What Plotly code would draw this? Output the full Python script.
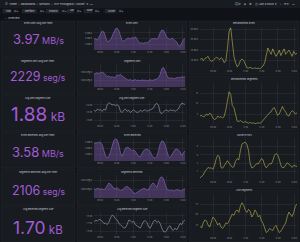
import pandas as pd
import plotly.graph_objects as go

W, H = 300, 242

# ---------------- data ----------------
stat_titles = ["Bytes Sent (avg over time)", "Segments Sent (avg over time)", "Avg Sent Segment Size",
               "Bytes Received (avg over time)", "Segments Received (avg over time)", "Avg Received Segment Size"]
stat_values = ["3.97", "2229", "1.88", "3.58", "2106", "1.70"]
stat_units = ["MB/s", "seg/s", "kB", "MB/s", "seg/s", "kB"]

mid_titles = ["Bytes Sent", "Segments Sent", "Avg Sent Segment Size",
              "Bytes Received", "Segments Received", "Avg Received Segment Size"]
bytes_sent_mbs = [3.8, 4.0, 3.68, 4.2, 4.8, 5.32, 5.12, 4.2, 3.4, 3.6, 3.8, 4.4, 5.2, 5.68, 5.8, 5.4, 4.48,
                  3.6, 3.52, 3.8, 4.0, 4.08, 3.92, 4.2, 4.0, 4.32, 3.8, 3.4, 3.2, 3.28, 3.12, 3.32, 3.2, 3.52,
                  3.68, 4.0, 3.92, 4.08, 3.8, 4.2, 5.0, 5.48, 5.4, 4.8, 4.2, 4.0, 3.8, 4.08, 3.92, 3.6, 3.4,
                  2.8, 2.6, 3.2, 3.8, 4.0]
segments_sent = [2370, 2440, 2468, 2412, 2440, 2510, 2440, 2300, 2230, 2272, 2188, 2230, 2160, 2230, 2328,
                 2300, 2370, 2272, 2188, 2090, 2048, 2020, 2062, 1992, 2020, 2048, 1992, 2020, 1978, 2034,
                 2006, 2020, 1964, 2020, 2048, 1992, 2020, 2062, 2090, 2160, 2370, 2720, 2790, 2580, 2300,
                 2160, 2132, 2160, 2104, 2132, 2160, 2188, 2160, 2230, 2202, 2230]
avg_sent_kb = [1.86, 1.83, 1.89, 1.86, 1.872, 1.83, 1.89, 1.86, 2.01, 2.052, 2.028, 1.998, 2.01, 1.98, 1.998,
               1.968, 1.83, 1.8, 1.86, 1.89, 1.83, 1.86, 1.8, 1.848, 1.872, 1.83, 1.8, 1.812, 1.86, 1.83,
               1.848, 1.872, 1.83, 1.86, 1.872, 1.89, 1.92, 2.01, 2.04, 1.98, 1.8, 1.77, 1.83, 1.86, 1.86,
               1.83, 1.872, 1.848, 1.86, 1.83, 1.86, 1.89, 1.98, 2.04, 2.028, 2.01]
bytes_recv_mbs = [4.8, 5.0, 4.92, 5.08, 5.0, 4.6, 3.6, 2.6, 2.4, 2.6, 3.4, 4.6, 5.4, 5.64, 5.48, 4.6, 3.2,
                  2.6, 3.2, 4.0, 4.2, 4.12, 3.8, 3.6, 3.72, 3.48, 3.0, 2.6, 2.52, 3.0, 3.6, 3.8, 3.88, 3.72,
                  3.4, 2.8, 2.4, 2.28, 2.6, 3.6, 4.8, 5.28, 5.2, 4.6, 3.4, 2.6, 2.4, 2.8, 3.4, 3.8, 3.88,
                  3.72, 3.4, 2.8, 3.2, 3.6]
segments_recv = [2020, 1994, 2046, 2020, 1994, 2020, 1968, 2046, 2215, 2345, 2280, 2150, 2046, 2020, 2085,
                 1994, 1916, 1955, 2046, 2124, 2150, 2098, 2020, 1890, 1786, 1760, 1825, 1890, 1916, 1994,
                 2046, 2020, 1955, 1994, 2150, 2306, 2345, 2215, 2085, 2410, 2644, 2696, 2605, 2280, 2020,
                 1955, 1916, 1955, 1890, 1929, 1968, 1955, 1929, 1890, 1994, 2020]
avg_recv_kb = [1.73, 1.79, 1.76, 1.808, 1.79, 1.76, 1.7, 1.712, 1.67, 1.73, 1.85, 1.922, 1.892, 1.82, 1.79,
               1.7, 1.67, 1.61, 1.58, 1.592, 1.67, 1.79, 1.772, 1.73, 1.76, 1.67, 1.64, 1.61, 1.58, 1.67,
               1.76, 1.772, 1.73, 1.61, 1.58, 1.67, 1.76, 1.79, 1.73, 1.76, 1.7, 1.58, 1.49, 1.478, 1.52,
               1.61, 1.64, 1.55, 1.52, 1.58, 1.532, 1.61, 1.7, 1.67, 1.76, 1.79]

right_titles = ["Retransmitted Bytes", "Retransmitted Segments", "Socket Errors", "Lost Segments"]
retrans_bytes_kbs = [10.8, 12.4, 10, 12, 12.8, 14, 10.8, 9.2, 10, 12, 13.2, 12.4, 10.8, 12.8, 11.6, 8, 10,
                     22, 38, 41.2, 30, 14, 8, 4, 6, 10, 11.6, 10, 6.8, 3.2, 2.8, 3.6, 2.8, 2, 3.2, 2.4, 2.8,
                     2, 3.6, 4.8, 8, 16, 22, 18.8, 16, 21.2, 18, 14, 16.4, 20, 14.8, 18.8, 21.2, 16, 18, 20,
                     17.2, 14, 18.8, 16, 17.2]
retrans_segments = [4, 4.4, 3.6, 4, 5, 4.4, 5.4, 4.8, 3, 2.4, 2.8, 4, 3.4, 3.8, 3, 4, 7, 12, 15.6, 14.4, 9,
                    8, 4, 1.6, 1.4, 2, 1.2, 1, 1.4, 0.8, 0.6, 1, 0.6, 0.8, 0.4, 0.6, 0.8, 0.6, 1, 2, 3, 4, 5,
                    5.6, 6, 7.6, 8, 6, 4.4, 5, 7, 8.6, 7, 6, 4.4, 4, 5.6, 6.6, 6, 5, 5.6]
socket_errors = [0.5, 0.8, 1.2, 2, 2.5, 3, 2.8, 2.9, 2.5, 3.5, 5, 5.9, 5.5, 3, 2.8, 3.5, 4.2, 4.6, 4, 3.5, 3,
                 3.2, 4.5, 5.1, 4.8, 7, 8.6, 8.8, 9, 8.5, 7, 4, 2.9, 3, 3.5, 3.9, 3.8, 4.5, 5.1, 4.8, 3.5,
                 2.9, 3.3, 3.9, 3.8, 4.5, 5.8, 6.3, 6, 5, 3.5, 2.9, 3, 3.5, 4.1, 3.8, 3.3, 3, 3.5, 3.4, 3.2]
lost_segments = [22, 18, 30, 37, 35, 25, 20, 30, 44, 40, 30, 25, 30, 20, 17, 22, 30, 28, 35, 45, 51, 48, 58,
                 61, 55, 70, 78, 72, 60, 55, 62, 58, 44, 50, 61, 55, 44, 48, 35, 29, 20, 7, 10, 17, 14, 12,
                 20, 24, 15, 7, 10, 17, 22, 30, 45, 56, 50, 45, 55, 70, 75]

hour_labels = ["09:00", "10:00", "11:00", "12:00", "13:00", "14:00"]
mid_ytick_vals = [[3, 4, 5], [2000, 2500], [1.6, 1.8, 2.0], [3, 4, 5], [2000, 2500], [1.5, 1.7, 1.9]]
mid_ytick_text = [["3 MB/s", "4 MB/s", "5 MB/s"], ["2000 seg/s", "2500 seg/s"], ["1.6 kB", "1.8 kB", "2.0 kB"],
                  ["3 MB/s", "4 MB/s", "5 MB/s"], ["2000 seg/s", "2500 seg/s"], ["1.5 kB", "1.7 kB", "1.9 kB"]]
right_ytick_vals = [[10, 20, 30, 40], [5, 10, 15], [2, 4, 6, 8], [25, 50, 75]]
right_ytick_text = [["10 kB/s", "20 kB/s", "30 kB/s", "40 kB/s"], ["5", "10", "15"], ["2", "4", "6", "8"],
                    ["25", "50", "75"]]

mid_series = [bytes_sent_mbs, segments_sent, avg_sent_kb, bytes_recv_mbs, segments_recv, avg_recv_kb]
right_series = [retrans_bytes_kbs, retrans_segments, socket_errors, lost_segments]

mid_times = pd.date_range("2024-05-14 08:38", periods=len(bytes_sent_mbs), freq="6min")
right_times = pd.date_range("2024-05-14 08:11", periods=len(retrans_bytes_kbs), freq="6min")
hour_ticks = pd.date_range("2024-05-14 09:00", periods=len(hour_labels), freq="1h")

# ---------------- styling / layout ----------------
BG = "#111217"
PANEL = "#181b1f"
BORDER = "#26292f"
TXT = "#ccccdc"
TICK = "#8e8f99"
PURPLE = "#a35bd8"
FONT = "Inter"

mid_ranges = [[2, 6], [1600, 3000], [1.5, 2.1], [1.8, 5.8], [1500, 2800], [1.4, 2.0]]
mid_is_area = [True, True, False, True, True, False]
right_ranges = [[2, 42], [0, 20], [0, 10], [0, 100]]

stat_value_y = [39, 77, 114.5, 152, 190, 227]
stat_sizes = [(13, 9), (12.5, 8.5), (19, 12), (13, 9), (12.5, 8.5), (17.5, 11.5)]


def fx(p):
    return p / W


def fy(p):
    return 1 - p / H


fig = go.Figure()
shapes = []
ann = []


def panel(x0, y0, x1, y1):
    shapes.append(dict(type="rect", xref="paper", yref="paper", x0=fx(x0), x1=fx(x1), y0=fy(y1), y1=fy(y0),
                       fillcolor=PANEL, line=dict(color=BORDER, width=0.5), layer="below"))


def text(x, y, s, size, color=TXT, xanchor="left"):
    ann.append(dict(xref="paper", yref="paper", x=fx(x), y=fy(y), text=s, showarrow=False,
                    xanchor=xanchor, yanchor="middle", font=dict(size=size, color=color, family=FONT)))


# header
shapes.append(dict(type="rect", xref="paper", yref="paper", x0=0, x1=1, y0=fy(8), y1=1,
                   fillcolor=PANEL, line=dict(width=0), layer="below"))
text(3, 4, "☰  Home  ›  Dashboards  ›  Network  ›  TCP Throughput / Socket  ☆  ⋯", 2.6)
text(297, 4, "⊕ ▾    ⧉    ⚙    ◷ Last 6 hours ▾    ⌕    ⟳ ▾    ▭", 2.6, xanchor="right")
var_items = [("Host", 3), ("Interface", 22), ("Protocol", 46), ("Job", 67), ("Node", 84), ("Socket", 105)]
for name, vx in var_items:
    lw = len(name) * 1.3 + 3
    shapes.append(dict(type="rect", xref="paper", yref="paper", x0=fx(vx), x1=fx(vx + lw), y0=fy(13), y1=fy(9),
                       fillcolor="#22252b", line=dict(color=BORDER, width=0.4), layer="below"))
    shapes.append(dict(type="rect", xref="paper", yref="paper", x0=fx(vx + lw), x1=fx(vx + lw + 7), y0=fy(13),
                       y1=fy(9), fillcolor=BG, line=dict(color=BORDER, width=0.4), layer="below"))
    text(vx + 1.2, 11, name, 2.2)
    text(vx + lw + 1, 11, "All ▾", 2.0)
text(3, 17.5, "⌄  Overview", 2.5)

# left stat panels
row_tops = [21, 58, 95, 132, 169, 206]
for i in range(6):
    t = row_tops[i]
    panel(1, t, 75, t + 36)
    text(38, t + 2.5, stat_titles[i], 2.3, xanchor="center")
    vs, us = stat_sizes[i]
    ann.append(dict(xref="paper", yref="paper", x=fx(38), y=fy(stat_value_y[i]),
                    text=f"{stat_values[i]}<span style='font-size:{us}px'> {stat_units[i]}</span>",
                    showarrow=False, xanchor="center", yanchor="middle",
                    font=dict(size=vs, color=PURPLE, family=FONT)))

layout_axes = {}
# middle charts
for i in range(6):
    t = row_tops[i]
    panel(77, t, 187, t + 36)
    text(132, t + 2.5, mid_titles[i], 2.3, xanchor="center")
    n = i + 1
    xa = "xaxis" if n == 1 else f"xaxis{n}"
    ya = "yaxis" if n == 1 else f"yaxis{n}"
    xr = "x" if n == 1 else f"x{n}"
    yr = "y" if n == 1 else f"y{n}"
    if mid_is_area[i]:
        tr = go.Scatter(x=mid_times, y=mid_series[i], mode="lines", fill="tozeroy",
                        line=dict(color="#8d6cc2", width=0.6), fillcolor="rgba(130,90,180,0.40)")
    else:
        tr = go.Scatter(x=mid_times, y=mid_series[i], mode="lines",
                        line=dict(color="#b8accb", width=0.55))
    tr.update(xaxis=xr, yaxis=yr, hoverinfo="skip", showlegend=False)
    fig.add_trace(tr)
    layout_axes[xa] = dict(domain=[fx(94), fx(185)], anchor=yr, range=[mid_times[0], mid_times[-1]],
                           tickvals=hour_ticks, ticktext=hour_labels, showgrid=True,
                           gridcolor="rgba(204,204,220,0.07)", gridwidth=0.5, zeroline=False, showline=False,
                           ticks="", tickfont=dict(size=2.1, color=TICK, family=FONT), ticklabelstandoff=0)
    layout_axes[ya] = dict(domain=[fy(t + 29), fy(t + 6)], anchor=xr, range=mid_ranges[i],
                           tickvals=mid_ytick_vals[i], ticktext=mid_ytick_text[i], showgrid=True,
                           gridcolor="rgba(204,204,220,0.07)", gridwidth=0.5, zeroline=False, showline=False,
                           ticks="", tickfont=dict(size=2.1, color=TICK, family=FONT), ticklabelstandoff=1)

# right charts
right_tops = [21, 76.5, 132, 187.5]
for j in range(4):
    t = right_tops[j]
    panel(189, t, 299, t + 54)
    text(244, t + 2.5, right_titles[j], 2.3, xanchor="center")
    n = 7 + j
    xa, ya, xr, yr = f"xaxis{n}", f"yaxis{n}", f"x{n}", f"y{n}"
    fig.add_trace(go.Scatter(x=right_times, y=right_series[j], mode="lines",
                             line=dict(color="#d0c758", width=0.55), xaxis=xr, yaxis=yr,
                             hoverinfo="skip", showlegend=False))
    layout_axes[xa] = dict(domain=[fx(200), fx(297)], anchor=yr, range=[right_times[0], right_times[-1]],
                           tickvals=hour_ticks, ticktext=hour_labels, showgrid=True,
                           gridcolor="rgba(204,204,220,0.07)", gridwidth=0.5, zeroline=False, showline=False,
                           ticks="", tickfont=dict(size=2.1, color=TICK, family=FONT), ticklabelstandoff=0)
    layout_axes[ya] = dict(domain=[fy(t + 48), fy(t + 6)], anchor=xr, range=right_ranges[j],
                           tickvals=right_ytick_vals[j], ticktext=right_ytick_text[j], showgrid=True,
                           gridcolor="rgba(204,204,220,0.07)", gridwidth=0.5, zeroline=False, showline=False,
                           ticks="", tickfont=dict(size=2.1, color=TICK, family=FONT), ticklabelstandoff=1)

fig.update_layout(width=W, height=H, margin=dict(l=0, r=0, t=0, b=0), paper_bgcolor=BG,
                  plot_bgcolor="rgba(0,0,0,0)", shapes=shapes, annotations=ann, showlegend=False,
                  font=dict(family=FONT, color=TXT), **layout_axes)
fig.write_html("out.html", config={"displayModeBar": False})
